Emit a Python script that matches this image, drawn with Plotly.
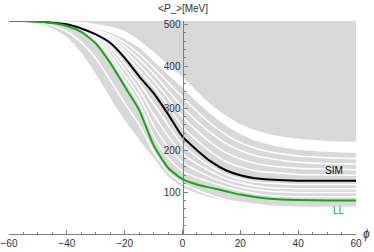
import plotly.graph_objects as go

# sample positions along phi
phi = [-60, -55, -50, -45, -40, -35, -30, -25, -20, -15, -10, -5, 0, 5, 10, 15, 20, 25, 30, 40, 50, 60]

# simulated (SIM) and Landau-Lifshitz (LL) curves, <P_> in MeV
sim = [508, 508, 507, 504, 500, 490, 476, 456, 420, 376, 336, 286, 232, 200, 172, 152, 140, 133, 130, 127, 127, 127]
ll  = [508, 508, 507, 503, 496, 482, 455, 408, 352, 296, 212, 158, 131, 118, 110, 102, 94, 88, 84, 81, 80, 80]

# envelope of the gray band family
band_low = [508, 507, 503, 490, 470, 432, 382, 325, 272, 225, 182, 138, 112, 97, 87, 80, 75, 70, 67, 64, 63, 63]
band_top = [508] * 22

# wide white gap near the top
gap_top_hi = [508, 508, 508, 508, 507, 505, 501, 495, 484, 462, 434, 405, 375, 340, 308, 282, 262, 248, 238, 227, 222, 220]
gap_top_lo = [508, 508, 507, 505, 503, 498, 490, 480, 465, 444, 412, 380, 349, 315, 285, 258, 238, 223, 213, 201, 196, 193]

# thin white separators between gray strips
sep_hi = [
    [508, 508, 507, 504, 501, 492, 479, 461, 429, 390, 351, 305, 255, 223, 195, 173, 160, 151, 147, 142, 141, 140],
    [508, 508, 507, 504, 501, 493, 482, 466, 438, 403, 366, 324, 279, 246, 217, 194, 179, 169, 163, 157, 155, 153],
    [508, 508, 507, 505, 502, 495, 484, 470, 447, 417, 382, 342, 302, 269, 240, 216, 199, 187, 180, 171, 168, 167],
    [508, 508, 507, 505, 502, 496, 487, 475, 456, 430, 397, 361, 326, 292, 262, 237, 218, 205, 196, 186, 182, 180],
]
sep_mid = [
    [508, 508, 507, 503, 497, 484, 459, 418, 366, 312, 234, 181, 150, 134, 123, 112, 103, 97, 92, 89, 89, 89],
    [508, 508, 507, 503, 498, 485, 463, 427, 379, 328, 259, 207, 171, 151, 135, 122, 112, 106, 102, 99, 99, 99],
    [508, 508, 507, 504, 498, 487, 468, 437, 393, 344, 285, 234, 191, 167, 148, 132, 122, 115, 111, 108, 108, 108],
    [508, 508, 507, 504, 499, 488, 472, 446, 406, 360, 310, 260, 212, 184, 160, 142, 131, 124, 121, 118, 118, 118],
]
sep_low = [508, 508, 505, 497, 483, 457, 419, 367, 312, 261, 197, 148, 121, 105, 92, 82, 76, 71, 67, 64, 63, 63]

GRAY = "rgb(216,216,216)"
GREEN = "#14a814"

fig = go.Figure()
sm = 0.6
fig.add_trace(go.Scatter(x=phi, y=band_low, mode="lines", line=dict(width=0, shape="spline", smoothing=sm),
                         hoverinfo="skip", showlegend=False))
fig.add_trace(go.Scatter(x=phi, y=band_top, mode="lines", line=dict(width=0), fill="tonexty",
                         fillcolor=GRAY, hoverinfo="skip", showlegend=False))
fig.add_trace(go.Scatter(x=phi, y=gap_top_lo, mode="lines", line=dict(width=0, shape="spline", smoothing=sm),
                         hoverinfo="skip", showlegend=False))
fig.add_trace(go.Scatter(x=phi, y=gap_top_hi, mode="lines", line=dict(width=0, shape="spline", smoothing=sm),
                         fill="tonexty", fillcolor="white", hoverinfo="skip", showlegend=False))
for s in sep_hi + sep_mid + [sep_low]:
    fig.add_trace(go.Scatter(x=phi, y=s, mode="lines",
                             line=dict(color="white", width=1.5, shape="spline", smoothing=sm),
                             hoverinfo="skip", showlegend=False))
fig.add_trace(go.Scatter(x=phi, y=sim, mode="lines", name="SIM",
                         line=dict(color="black", width=2, shape="spline", smoothing=sm), showlegend=False))
fig.add_trace(go.Scatter(x=phi, y=ll, mode="lines", name="LL",
                         line=dict(color=GREEN, width=2, shape="spline", smoothing=sm), showlegend=False))

AX = "#808080"
TF = dict(family="Liberation Sans, Arial, sans-serif", size=10, color="#333")
fig.update_layout(
    width=374, height=252, template="none",
    margin=dict(l=9, r=18, t=21, b=18, autoexpand=False),
    paper_bgcolor="white", plot_bgcolor="white",
    font=TF,
    xaxis=dict(range=[-60, 60], tickvals=[-60, -40, -20, 0, 20, 40, 60], ticks="inside", ticklen=4,
               tickcolor=AX, showline=True, linecolor=AX, linewidth=1, showgrid=False, zeroline=False,
               tickfont=TF, automargin=False,
               minor=dict(ticks="inside", dtick=5, ticklen=2, tickcolor=AX, showgrid=False)),
    yaxis=dict(range=[0, 508], anchor="free", position=0.5, tickvals=[100, 200, 300, 400, 500],
               ticks="inside", ticklen=4, tickcolor=AX, showline=True, linecolor=AX, linewidth=1,
               showgrid=False, zeroline=False, tickfont=TF, automargin=False,
               minor=dict(ticks="inside", dtick=20, ticklen=2, tickcolor=AX, showgrid=False)),
    annotations=[
        dict(x=0, y=1, xref="x", yref="paper", yanchor="bottom", xanchor="center", yshift=5,
             text="&lt;<i>P</i>_&gt;[MeV]", showarrow=False, font=TF),
        dict(x=1, y=0, xref="paper", yref="y", xanchor="left", yanchor="middle", xshift=5,
             text="<i>ϕ</i>", showarrow=False, font=dict(family="Liberation Sans, Arial", size=12, color="#333")),
        dict(x=52.5, y=151, xref="x", yref="y", text="SIM", showarrow=False,
             font=dict(family="Liberation Sans, Arial", size=10, color="black")),
        dict(x=54, y=56, xref="x", yref="y", text="LL", showarrow=False,
             font=dict(family="Liberation Sans, Arial", size=10, color=GREEN)),
    ],
)
fig.write_html("out.html", config={"displayModeBar": False},
               post_script="document.body.style.margin='0';document.body.style.overflow='hidden';")
